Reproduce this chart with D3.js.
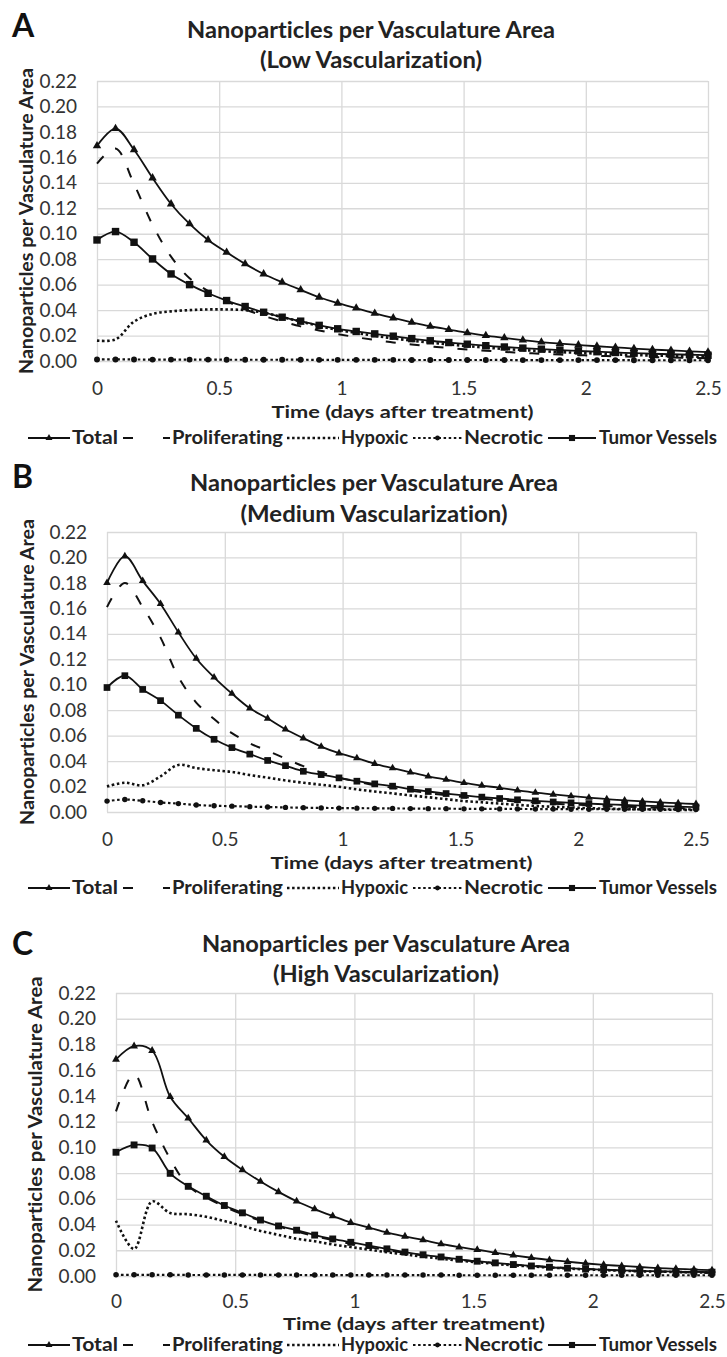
<!DOCTYPE html>
<html>
<head>
<meta charset="utf-8">
<script src="https://cdn.jsdelivr.net/npm/d3@7"></script>
<style>
  body { margin: 0; background: #fff; }
  svg { display: block; font-family: Lato, "Open Sans", sans-serif; font-variant-ligatures: none; }
</style>
</head>
<body>
<script>
// time points (days after treatment), same for every series
const times = [0, 0.0758, 0.1515, 0.2273, 0.3030, 0.3788, 0.4545, 0.5303, 0.6061, 0.6818,
    0.7576, 0.8333, 0.9091, 0.9848, 1.0606, 1.1364, 1.2121, 1.2879, 1.3636, 1.4394,
    1.5152, 1.5909, 1.6667, 1.7424, 1.8182, 1.8939, 1.9697, 2.0455, 2.1212, 2.1970,
    2.2727, 2.3485, 2.4242, 2.5];

const xTicks = [0, 0.5, 1, 1.5, 2, 2.5];
const yTicks = [0, 0.02, 0.04, 0.06, 0.08, 0.10, 0.12, 0.14, 0.16, 0.18, 0.20, 0.22];
const seriesNames = ["Total", "Proliferating", "Hypoxic", "Necrotic", "Tumor Vessels"];
const panelLetters = ["A", "B", "C"];
const panelSubtitles = ["(Low Vascularization)", "(Medium Vascularization)", "(High Vascularization)"];
const chartTitle = "Nanoparticles per Vasculature Area";
const yTitle = "Nanoparticles per Vasculature Area";
const xTitle = "Time (days after treatment)";

// --- A: low vascularization
const lowTotal = [0.169, 0.1826, 0.166, 0.1438, 0.1234, 0.1077, 0.0951, 0.0854, 0.0763, 0.0684,
    0.0619, 0.0559, 0.0501, 0.0454, 0.0415, 0.0375, 0.0338, 0.0304, 0.0273, 0.0247,
    0.0221, 0.0200, 0.0182, 0.0164, 0.0148, 0.0137, 0.0126, 0.0116, 0.0107, 0.0098,
    0.0090, 0.0083, 0.0076, 0.0070];
const lowProliferating = [0.155, 0.167, 0.139, 0.107, 0.082, 0.065, 0.055, 0.047, 0.0405, 0.0355,
    0.031, 0.0272, 0.0240, 0.0212, 0.0187, 0.0165, 0.0146, 0.0130, 0.0115, 0.0102,
    0.0091, 0.0081, 0.0072, 0.0064, 0.0057, 0.0051, 0.0046, 0.0041, 0.0037, 0.0033,
    0.0030, 0.0027, 0.0024, 0.0022];
const lowHypoxic = [0.016, 0.017, 0.031, 0.037, 0.039, 0.040, 0.0405, 0.0405, 0.040, 0.038,
    0.0345, 0.031, 0.0275, 0.0245, 0.022, 0.0198, 0.0178, 0.016, 0.0144, 0.013,
    0.0117, 0.0105, 0.0095, 0.0086, 0.0078, 0.0070, 0.0064, 0.0058, 0.0052, 0.0047,
    0.0043, 0.0039, 0.0035, 0.0032];
const lowNecrotic = [0.0012, 0.0012, 0.0012, 0.0011, 0.0011, 0.0011, 0.0011, 0.0010, 0.0010, 0.0010,
    0.0010, 0.0010, 0.0009, 0.0009, 0.0009, 0.0009, 0.0009, 0.0008, 0.0008, 0.0008,
    0.0008, 0.0008, 0.0008, 0.0007, 0.0007, 0.0007, 0.0007, 0.0007, 0.0007, 0.0006,
    0.0006, 0.0006, 0.0006, 0.0006];
const lowVessels = [0.0951, 0.1017, 0.0933, 0.0802, 0.0684, 0.0600, 0.0532, 0.0475, 0.0428, 0.0383,
    0.0344, 0.0313, 0.0280, 0.0253, 0.0232, 0.0213, 0.0195, 0.0176, 0.0159, 0.0145,
    0.0132, 0.0120, 0.0110, 0.0101, 0.0093, 0.0086, 0.0079, 0.0073, 0.0067, 0.0062,
    0.0057, 0.0053, 0.0049, 0.0045];

// --- B: medium vascularization
const medTotal = [0.180, 0.201, 0.1816, 0.1635, 0.1412, 0.1206, 0.1058, 0.093, 0.0815, 0.0735,
    0.065, 0.058, 0.0514, 0.0462, 0.0423, 0.0379, 0.0345, 0.0312, 0.028, 0.0255,
    0.0229, 0.0208, 0.0190, 0.0170, 0.0152, 0.0138, 0.0125, 0.0113, 0.0101, 0.0092,
    0.0084, 0.0076, 0.0069, 0.0063];
const medProliferating = [0.161, 0.180, 0.161, 0.137, 0.106, 0.086, 0.073, 0.062, 0.054, 0.048,
    0.042, 0.036, 0.031, 0.027, 0.024, 0.021, 0.019, 0.0168, 0.0149, 0.0132,
    0.0117, 0.0104, 0.0093, 0.0083, 0.0074, 0.0066, 0.0059, 0.0053, 0.0047, 0.0042,
    0.0038, 0.0034, 0.0031, 0.0028];
const medHypoxic = [0.020, 0.023, 0.021, 0.028, 0.037, 0.0345, 0.0328, 0.0315, 0.029, 0.027,
    0.0248, 0.023, 0.0214, 0.0198, 0.0178, 0.0161, 0.0146, 0.013, 0.0116, 0.0101,
    0.0086, 0.0076, 0.0066, 0.0056, 0.0047, 0.0041, 0.0036, 0.0030, 0.0026, 0.0023,
    0.0021, 0.0019, 0.0017, 0.0016];
const medNecrotic = [0.0086, 0.0098, 0.0088, 0.0075, 0.0066, 0.0055, 0.0049, 0.0046, 0.0042, 0.0039,
    0.0036, 0.0034, 0.0032, 0.0031, 0.0030, 0.0029, 0.0028, 0.0027, 0.0026, 0.0026,
    0.0025, 0.0025, 0.0024, 0.0024, 0.0023, 0.0023, 0.0022, 0.0022, 0.0022, 0.0021,
    0.0021, 0.0021, 0.0020, 0.0020];
const medVessels = [0.0978, 0.1071, 0.0963, 0.0875, 0.0761, 0.0657, 0.0571, 0.0506, 0.0455, 0.0405,
    0.0364, 0.0320, 0.0294, 0.0268, 0.0242, 0.0221, 0.0203, 0.0179, 0.0161, 0.0145,
    0.0130, 0.0117, 0.0106, 0.0096, 0.0087, 0.0079, 0.0072, 0.0066, 0.0060, 0.0055,
    0.0050, 0.0046, 0.0042, 0.0039];

// --- C: high vascularization
const highTotal = [0.1684, 0.1787, 0.1752, 0.1394, 0.1226, 0.1055, 0.0927, 0.0825, 0.0735, 0.0654,
    0.0581, 0.0520, 0.0466, 0.0415, 0.0377, 0.0338, 0.0308, 0.0280, 0.0249, 0.0224,
    0.0204, 0.0181, 0.0161, 0.0142, 0.0125, 0.0111, 0.0098, 0.0087, 0.0078, 0.0070,
    0.0062, 0.0056, 0.0050, 0.0045];
const highProliferating = [0.128, 0.157, 0.120, 0.091, 0.070, 0.061, 0.054, 0.048, 0.043, 0.0385,
    0.0345, 0.031, 0.028, 0.025, 0.0225, 0.020, 0.018, 0.016, 0.0143, 0.0127,
    0.0113, 0.0100, 0.0089, 0.0079, 0.0070, 0.0062, 0.0055, 0.0049, 0.0043, 0.0038,
    0.0034, 0.0030, 0.0027, 0.0024];
const highHypoxic = [0.043, 0.021, 0.058, 0.049, 0.048, 0.046, 0.0427, 0.039, 0.035, 0.032,
    0.029, 0.027, 0.0245, 0.0225, 0.0205, 0.0185, 0.0168, 0.015, 0.0135, 0.012,
    0.0107, 0.0094, 0.0083, 0.0074, 0.0066, 0.0058, 0.0052, 0.0046, 0.0041, 0.0037,
    0.0034, 0.0031, 0.0029, 0.0027];
const highNecrotic = [0.0009, 0.0009, 0.0009, 0.0009, 0.0008, 0.0008, 0.0008, 0.0008, 0.0008, 0.0008,
    0.0008, 0.0007, 0.0007, 0.0007, 0.0007, 0.0007, 0.0007, 0.0007, 0.0007, 0.0006,
    0.0006, 0.0006, 0.0006, 0.0006, 0.0006, 0.0006, 0.0006, 0.0006, 0.0006, 0.0006,
    0.0006, 0.0006, 0.0006, 0.0006];
const highVessels = [0.0962, 0.1019, 0.0995, 0.0798, 0.0697, 0.0620, 0.0548, 0.0491, 0.0435, 0.0389,
    0.0356, 0.0318, 0.0288, 0.0262, 0.0237, 0.0211, 0.0186, 0.0165, 0.0148, 0.0130,
    0.0115, 0.0102, 0.0089, 0.0078, 0.0068, 0.0061, 0.0054, 0.0049, 0.0044, 0.0040,
    0.0037, 0.0034, 0.0032, 0.0030];

const panelSeries = [
    [lowTotal, lowProliferating, lowHypoxic, lowNecrotic, lowVessels],
    [medTotal, medProliferating, medHypoxic, medNecrotic, medVessels],
    [highTotal, highProliferating, highHypoxic, highNecrotic, highVessels]
];

// --------------------------------------------------------------------------------
// layout of the three stacked panels (pixels)
const width = 727, height = 1357;
const layout = [
    { left: 97, right: 708, top: 81, bottom: 361, letterY: 37, titleY: 38, subY: 68, titleX: 371, subW: 222,
      yTitleX: 27, yTitleW: 306, mark: 1.1, tickBase: 34, xTitleY: 418, legendY: 444 },
    { left: 107, right: 696, top: 532, bottom: 812, letterY: 488, titleY: 491, subY: 522, titleX: 374, subW: 267,
      yTitleX: 28, yTitleW: 306, mark: 0.9, tickBase: 34, xTitleY: 869, legendY: 894 },
    { left: 116, right: 712, top: 993, bottom: 1276, letterY: 955, titleY: 952, subY: 982, titleX: 386, subW: 226,
      yTitleX: 36, yTitleW: 316, mark: 0.95, tickBase: 32, xTitleY: 1329.5, legendY: 1351 }
];

// legend pieces: sample from x0 to x1, label starts at tx with width tw
const legendLayout = [
    { x0: 28, x1: 70, tx: 72, tw: 46 },
    { x0: 123, x1: 170, tx: 172, tw: 111 },
    { x0: 287, x1: 339, tx: 341, tw: 67 },
    { x0: 413, x1: 462, tx: 464, tw: 79 },
    { x0: 548, x1: 596, tx: 599, tw: 118 }
];

const seriesStyle = [
    { dash: null, width: 1.8, symbol: d3.symbolTriangle, size: 28 },
    { dash: "10,14", width: 2, symbol: null },
    { dash: "2.5,2.6", width: 2.6, symbol: null },
    { dash: "2.5,2.6", width: 2.2, symbol: d3.symbolCircle, size: 25 },
    { dash: null, width: 1.8, symbol: d3.symbolSquare, size: 50 }
];

const ink = "#111";
const tickFont = 19;

const svg = d3.select("body").append("svg")
    .attr("width", width)
    .attr("height", height)
    .attr("viewBox", [0, 0, width, height]);

function drawPanel(p, k) {
    const x = d3.scaleLinear().domain([0, 2.5]).range([p.left, p.right]);
    const y = d3.scaleLinear().domain([0, 0.22]).range([p.bottom, p.top]);
    const g = svg.append("g");

    // gridlines + tick labels through the axes
    const yAxis = g.append("g")
        .attr("transform", `translate(${p.left},0)`)
        .call(d3.axisLeft(y).tickValues(yTicks).tickFormat(d3.format(".2f"))
            .tickSize(-(p.right - p.left)).tickPadding(20));
    const xAxis = g.append("g")
        .attr("transform", `translate(0,${p.bottom})`)
        .call(d3.axisBottom(x).tickValues(xTicks).tickFormat(d => String(d))
            .tickSize(-(p.bottom - p.top)).tickPadding(p.tickBase - 0.71 * tickFont));

    [yAxis, xAxis].forEach(a => {
        a.select(".domain").remove();
        a.selectAll(".tick line").attr("stroke", "#d9d9d9").attr("stroke-width", 1.3);
        a.selectAll(".tick text")
            .attr("fill", "#333")
            .style("font-size", tickFont + "px")
            .style("font-family", "Lato, sans-serif");
    });

    // series lines
    const line = d3.line()
        .x((d, i) => x(times[i]))
        .y(d => y(d))
        .curve(d3.curveCatmullRom.alpha(0.5));

    panelSeries[k].forEach((values, s) => {
        const st = seriesStyle[s];
        g.append("path")
            .datum(values)
            .attr("fill", "none")
            .attr("stroke", ink)
            .attr("stroke-width", st.width)
            .attr("stroke-dasharray", st.dash)
            .attr("d", line);

        if (st.symbol) {
            g.append("g")
                .selectAll("path")
                .data(values)
                .join("path")
                .attr("transform", (d, i) => `translate(${x(times[i])},${y(d)})`)
                .attr("d", d3.symbol().type(st.symbol).size(st.size * p.mark))
                .attr("fill", ink);
        }
    });

    // panel letter and titles
    svg.append("text")
        .attr("x", 12).attr("y", p.letterY)
        .attr("font-size", 32).attr("font-weight", 700).attr("fill", ink)
        .text(panelLetters[k]);

    svg.append("text")
        .attr("x", p.titleX).attr("y", p.titleY)
        .attr("text-anchor", "middle")
        .attr("font-size", 22).attr("font-weight", 700).attr("fill", "#222")
        .attr("textLength", 368)
        .attr("lengthAdjust", "spacingAndGlyphs")
        .text(chartTitle);

    svg.append("text")
        .attr("x", p.titleX).attr("y", p.subY)
        .attr("text-anchor", "middle")
        .attr("font-size", 22).attr("font-weight", 700).attr("fill", "#222")
        .attr("textLength", p.subW)
        .attr("lengthAdjust", "spacingAndGlyphs")
        .text(panelSubtitles[k]);

    svg.append("text")
        .attr("transform", `translate(${p.yTitleX},${(p.top + p.bottom) / 2}) rotate(-90)`)
        .attr("dy", "0.35em")
        .attr("text-anchor", "middle")
        .attr("font-size", 18.5).attr("font-weight", 700).attr("fill", "#222")
        .attr("textLength", p.yTitleW)
        .attr("lengthAdjust", "spacingAndGlyphs")
        .text(yTitle);

    svg.append("text")
        .attr("x", (p.left + p.right) / 2).attr("y", p.xTitleY)
        .attr("text-anchor", "middle")
        .attr("font-size", 17.5).attr("font-weight", 700).attr("fill", "#222")
        .attr("textLength", 262)
        .attr("lengthAdjust", "spacingAndGlyphs")
        .text(xTitle);

    // legend
    const ly = p.legendY - 6;
    const leg = svg.append("g");
    legendLayout.forEach((L, s) => {
        const st = seriesStyle[s];
        if (s === 1) {
            // two long dashes, as in the original sample
            leg.append("line")
                .attr("x1", L.x0).attr("x2", L.x1).attr("y1", ly).attr("y2", ly)
                .attr("stroke", ink).attr("stroke-width", 2)
                .attr("stroke-dasharray", `10,${L.x1 - L.x0 - 17}`);
        } else {
            leg.append("line")
                .attr("x1", L.x0).attr("x2", L.x1).attr("y1", ly).attr("y2", ly)
                .attr("stroke", ink).attr("stroke-width", st.width)
                .attr("stroke-dasharray", st.dash);
        }
        if (st.symbol) {
            leg.append("path")
                .attr("transform", `translate(${(L.x0 + L.x1) / 2},${ly})`)
                .attr("d", d3.symbol().type(st.symbol).size(st.size * 0.75))
                .attr("fill", ink);
        }
        leg.append("text")
            .attr("x", L.tx).attr("y", p.legendY)
            .attr("font-size", 18).attr("font-weight", 700).attr("fill", "#222")
            .attr("textLength", L.tw)
            .attr("lengthAdjust", "spacingAndGlyphs")
            .text(seriesNames[s]);
    });
}

layout.forEach(drawPanel);
</script>
</body>
</html>
